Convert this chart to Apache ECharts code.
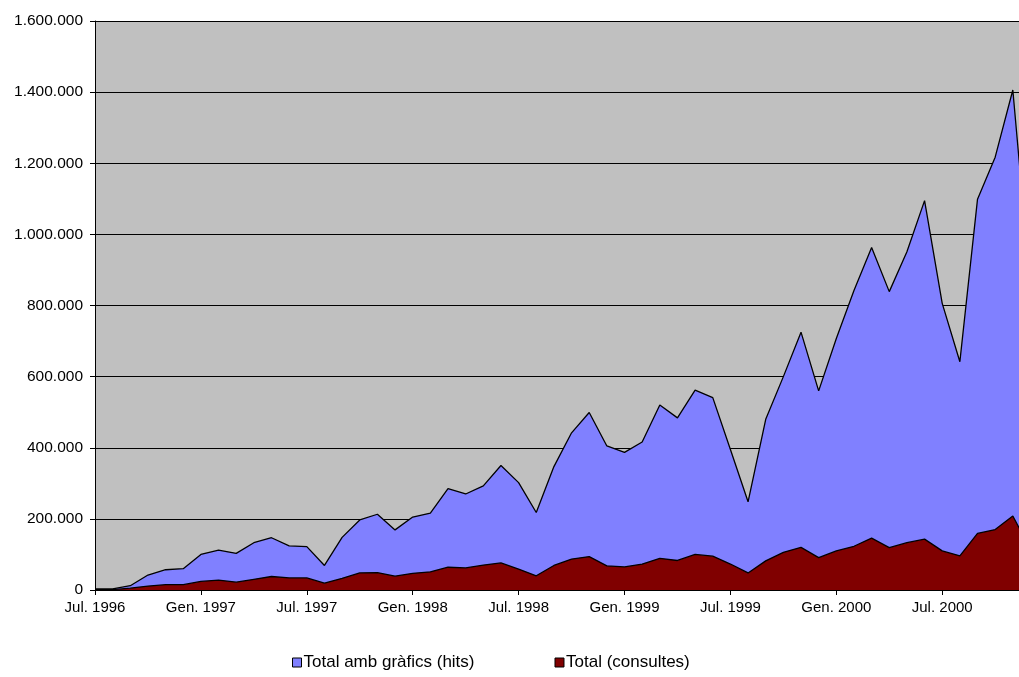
<!DOCTYPE html>
<html>
<head>
<meta charset="utf-8">
<script src="https://cdn.jsdelivr.net/npm/echarts@6/dist/echarts.min.js"></script>
<style>
  html, body { margin: 0; padding: 0; background: #fff; }
  #chart { width: 1019px; height: 677px; }
</style>
</head>
<body>
<div id="chart"></div>
<script>
// monthly values, first month = Jul. 1996
var startYear = 1996;
var monthNames = ['Jul.', 'Gen.'];
var hits = [3000, 3000, 12000, 42000, 57000, 60000, 100000, 112000, 103000, 133000,
  147000, 124000, 122000, 69000, 148000, 197000, 213000, 169000, 205000, 216000,
  285000, 270000, 293000, 350000, 302000, 218000, 347000, 442000, 499000, 405000,
  387000, 416000, 520000, 484000, 562000, 541000, 395000, 248000, 480000, 600000,
  725000, 560000, 707000, 842000, 963000, 839000, 951000, 1095000, 806000, 642000,
  1099000, 1217000, 1406000, 850000];
var consultes = [1000, 1000, 5000, 11000, 15000, 15000, 24000, 28000, 22000, 30000,
  38000, 34000, 34000, 19000, 33000, 48000, 49000, 39000, 47000, 51000,
  64000, 62000, 70000, 76000, 59000, 40000, 69000, 87000, 94000, 68000,
  65000, 73000, 89000, 83000, 100000, 95000, 73000, 48000, 82000, 106000,
  120000, 91000, 110000, 123000, 146000, 119000, 133000, 143000, 110000, 96000,
  159000, 170000, 208000, 114000];
var seriesNames = ['Total amb gràfics (hits)', 'Total (consultes)'];

function pairs(arr) {
  return arr.map(function (v, i) { return [i, v]; });
}
function monthLabel(i) {
  var half = Math.round(i / 6) % 2;
  var year = startYear + Math.floor((i + 6) / 12);
  return monthNames[half] + ' ' + year;
}
function thousands(v) {
  return String(v).replace(/\B(?=(\d{3})+(?!\d))/g, '.');
}

var chart = echarts.init(document.getElementById('chart'));
chart.setOption({
  animation: false,
  textStyle: { fontFamily: 'Liberation Sans, Arial, sans-serif' },
  grid: {
    left: 95, right: 0, top: 21, bottom: 87,
    show: true, backgroundColor: '#c0c0c0', borderWidth: 0
  },
  legend: {
    bottom: 1, left: 287,
    itemWidth: 9, itemHeight: 9, itemGap: 80,
    icon: 'rect',
    textStyle: { fontSize: 17, color: '#000', padding: [0, 0, 0, -3] },
    data: [
      { name: seriesNames[0], itemStyle: { color: '#8080ff', borderColor: '#000', borderWidth: 1 } },
      { name: seriesNames[1], itemStyle: { color: '#800000', borderColor: '#000', borderWidth: 1 } }
    ]
  },
  xAxis: {
    type: 'value',
    min: 0, max: 52.35, interval: 6,
    axisLine: { lineStyle: { color: '#000', width: 1 } },
    axisTick: { length: 5, lineStyle: { color: '#000' } },
    axisLabel: {
      color: '#000', fontSize: 15, margin: 10,
      showMaxLabel: false,
      formatter: function (v) { return monthLabel(v); }
    },
    splitLine: { show: false }
  },
  yAxis: {
    type: 'value',
    min: 0, max: 1600000, interval: 200000,
    axisLine: { show: true, lineStyle: { color: '#000', width: 1 } },
    axisTick: { show: true, length: 5, lineStyle: { color: '#000' } },
    axisLabel: {
      color: '#000', fontSize: 15.5, margin: 12,
      formatter: function (v) { return thousands(v); }
    },
    splitLine: { show: true, lineStyle: { color: '#000', width: 1 } }
  },
  series: [
    {
      name: seriesNames[0], type: 'line', data: pairs(hits),
      showSymbol: false, symbol: 'none',
      lineStyle: { color: '#000', width: 1.3 },
      itemStyle: { color: '#8080ff' },
      areaStyle: { color: '#8080ff', opacity: 1 },
      z: 2
    },
    {
      name: seriesNames[1], type: 'line', data: pairs(consultes),
      showSymbol: false, symbol: 'none',
      lineStyle: { color: '#000', width: 1.3 },
      itemStyle: { color: '#800000' },
      areaStyle: { color: '#800000', opacity: 1 },
      z: 3
    }
  ]
});
</script>
</body>
</html>
